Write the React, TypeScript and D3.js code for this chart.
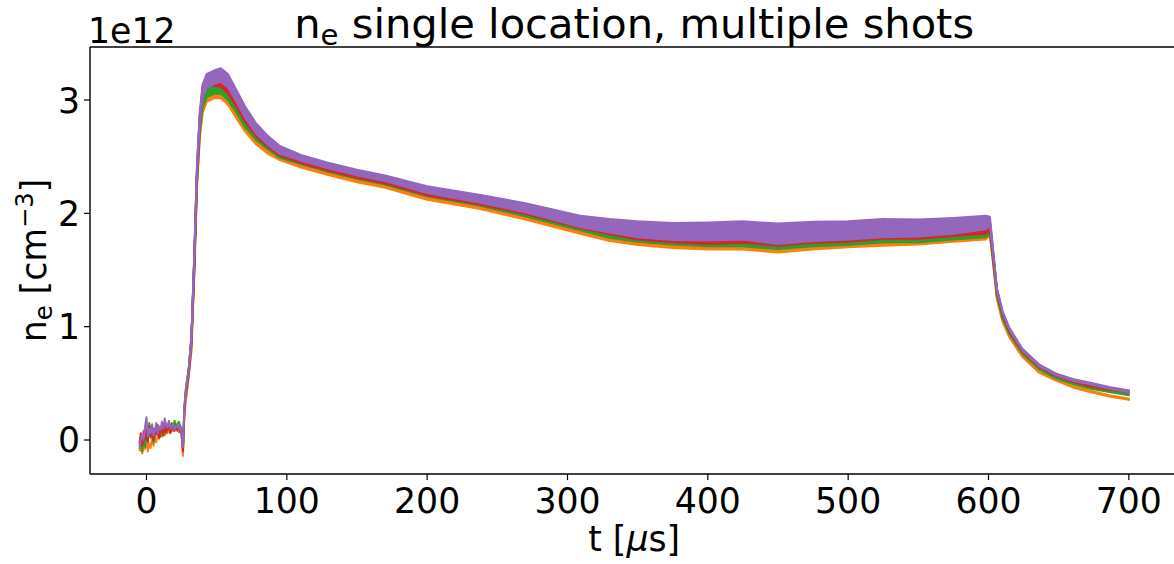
import React from 'react';
import * as d3 from 'd3';

// time axis in microseconds
const T_EARLY = [-5,-4,-3,-2,-1,0,1,2,3,4,5,6,7,8,9,10,11,12,13,14,15,16,17,18,19,20,21,22,23,24,25,26,27];
const T_MAIN = [28,30,32,34,36,38,40,43,48,53,58,64,70,78,86,95,110,130,150,170,200,237,270,309,330,350,375,400,425,450,475,500,525,550,575,598,601,603,606,610,615,624,636,648,660,672,686,700];

// electron density, units of 1e12 cm^-3
const BLUE_EARLY = [0.02,0.0,-0.02,0.05,0.08,0.02,0.1,0.04,0.12,0.06,0.1,0.03,0.09,0.13,0.05,0.11,0.08,0.12,0.07,0.14,0.09,0.1,0.13,0.08,0.11,0.15,0.1,0.08,0.12,0.1,0.06,-0.05,0.28];
const ORANGE_EARLY = [-0.1,-0.06,-0.12,-0.04,-0.08,0.0,-0.1,-0.03,-0.07,0.02,-0.05,0.03,-0.02,0.05,0.01,0.06,0.03,0.08,0.04,0.09,0.06,0.1,0.07,0.11,0.08,0.12,0.09,0.1,0.07,0.11,0.04,-0.14,0.2];
const GREEN_EARLY = [-0.05,0.03,-0.1,0.04,-0.06,0.06,0.0,0.15,0.02,0.09,-0.02,0.07,0.12,0.05,0.1,0.03,0.12,0.08,0.1,0.06,0.14,0.09,0.13,0.15,0.11,0.17,0.12,0.14,0.16,0.13,0.1,-0.08,0.27];
const RED_EARLY = [-0.03,0.06,-0.05,0.08,0.0,0.1,-0.02,0.12,0.04,0.08,0.0,0.1,0.05,0.13,0.02,0.09,0.11,0.04,0.15,0.07,0.1,0.14,0.06,0.1,0.13,0.08,0.11,0.09,0.12,0.07,0.05,-0.1,0.25];
const PURPLE_EARLY = [-0.08,0.02,0.05,0.0,0.12,0.2,0.03,0.1,0.06,0.14,0.04,0.08,0.15,0.06,0.12,0.09,0.16,0.1,0.19,0.13,0.11,0.17,0.1,0.12,0.14,0.09,0.12,0.13,0.1,0.12,0.05,-0.06,0.3];

const BLUE_MAIN = [0.43,0.6,0.88,1.58,2.38,2.83,3.05,3.14,3.17,3.18,3.13,3.0,2.87,2.72,2.63,2.55,2.48,2.41,2.35,2.3,2.2,2.12,2.04,1.92,
  1.87,1.84,1.82,1.82,1.83,1.81,1.82,1.83,1.85,1.85,1.87,1.9,1.91,
  1.68,1.32,1.12,0.97,0.79,0.65,0.57,0.52,0.49,0.45,0.42];
const ORANGE_MAIN = [0.35,0.55,0.8,1.45,2.25,2.7,2.93,3.03,3.06,3.06,3.0,2.88,2.76,2.64,2.56,2.5,2.43,2.36,2.3,2.25,2.15,2.07,1.98,1.86,
  1.8,1.77,1.75,1.74,1.74,1.72,1.74,1.76,1.77,1.78,1.8,1.82,1.83,
  1.6,1.25,1.05,0.91,0.74,0.6,0.53,0.47,0.43,0.39,0.36];
const GREEN_MAIN = [0.4,0.58,0.85,1.5,2.3,2.75,2.98,3.07,3.1,3.1,3.04,2.93,2.8,2.68,2.6,2.52,2.46,2.39,2.33,2.28,2.18,2.1,2.01,1.89,
  1.83,1.8,1.78,1.77,1.77,1.75,1.77,1.78,1.8,1.8,1.82,1.84,1.85,
  1.63,1.28,1.08,0.94,0.77,0.63,0.55,0.5,0.46,0.43,0.4];
const RED_MAIN = [0.42,0.6,0.88,1.55,2.35,2.82,3.08,3.18,3.17,3.16,3.1,2.98,2.85,2.71,2.62,2.54,2.47,2.4,2.34,2.29,2.19,2.11,2.03,1.91,
  1.86,1.82,1.8,1.79,1.8,1.78,1.8,1.81,1.83,1.83,1.85,1.87,1.88,
  1.66,1.31,1.11,0.96,0.79,0.65,0.57,0.52,0.48,0.45,0.43];
const PURPLE_MAIN = [0.45,0.62,0.9,1.6,2.4,2.85,3.08,3.17,3.2,3.22,3.17,3.04,2.9,2.75,2.65,2.56,2.49,2.42,2.36,2.31,2.21,2.13,2.05,1.93,
  1.89,1.86,1.84,1.84,1.85,1.82,1.84,1.85,1.87,1.87,1.89,1.92,1.93,
  1.7,1.33,1.13,0.98,0.8,0.66,0.58,0.53,0.5,0.46,0.43];

// half-width of the fast noise band around each trace
const NOISE_SHOT = [0,0,0.02,0.02,0.03,0.04,0.045,0.045,0.045,0.045,0.04,0.04,0.035,0.03,0.03,0.03,0.025,0.025,0.025,0.025,0.03,0.03,0.035,0.04,
  0.045,0.05,0.055,0.06,0.06,0.065,0.06,0.06,0.055,0.055,0.05,0.05,0.03,
  0.015,0.008,0.006,0.006,0.006,0.006,0.006,0.006,0.006,0.006,0.006];
const NOISE_PURPLE = [0,0,0.02,0.03,0.04,0.05,0.06,0.06,0.06,0.06,0.06,0.05,0.05,0.045,0.04,0.035,0.025,0.025,0.025,0.025,0.03,0.035,0.04,0.05,
  0.06,0.07,0.075,0.08,0.08,0.09,0.085,0.08,0.08,0.075,0.07,0.06,0.04,
  0.02,0.01,0.008,0.008,0.008,0.008,0.008,0.008,0.008,0.008,0.008];

const X_TICKS = [0,100,200,300,400,500,600,700];
const Y_TICKS = [0,1,2,3];

const SERIES = [
  { name: 'shot 1', color: '#1f77b4', early: BLUE_EARLY, main: BLUE_MAIN, noise: NOISE_SHOT },
  { name: 'shot 2', color: '#ff7f0e', early: ORANGE_EARLY, main: ORANGE_MAIN, noise: NOISE_SHOT },
  { name: 'shot 3', color: '#2ca02c', early: GREEN_EARLY, main: GREEN_MAIN, noise: NOISE_SHOT },
  { name: 'shot 4', color: '#d62728', early: RED_EARLY, main: RED_MAIN, noise: NOISE_SHOT },
  { name: 'shot 5', color: '#9467bd', early: PURPLE_EARLY, main: PURPLE_MAIN, noise: NOISE_PURPLE },
];

const W = 1174;
const H = 564;
const FONT = 'DejaVu Sans, sans-serif';
const FS = 34.7;
const FS_TITLE = 41.6;

export default function App() {
  const left = 90, right = 1178.3, top = 47, bottom = 474;
  const x = d3.scaleLinear().domain([-40.25, 735.25]).range([left, right]);
  const y = d3.scaleLinear().domain([-0.3, 3.468]).range([bottom, top]);

  const line = d3.line<[number, number]>().x(d => x(d[0])).y(d => y(d[1]));
  const area = d3.area<[number, number, number]>()
    .x(d => x(d[0]))
    .y0(d => y(d[1] - d[2]))
    .y1(d => y(d[1] + d[2]));

  return (
    <svg width={W} height={H} style={{ position: 'absolute', left: 0, top: 0, background: '#fff' }} fontFamily={FONT}>
      <rect x={0} y={0} width={W} height={H} fill="#fff" />
      <defs>
        <clipPath id="plotclip">
          <rect x={left} y={top} width={right - left} height={bottom - top} />
        </clipPath>
      </defs>
      <g clipPath="url(#plotclip)">
        {SERIES.map(s => {
          const pts: [number, number][] = [
            ...T_EARLY.map((t, i) => [t, s.early[i]] as [number, number]),
            ...T_MAIN.map((t, i) => [t, s.main[i]] as [number, number]),
          ];
          const band: [number, number, number][] = T_MAIN.map((t, i) => [t, s.main[i], s.noise[i]]);
          return (
            <g key={s.name}>
              <path d={area(band) || ''} fill={s.color} stroke={s.color} strokeWidth={2} strokeLinejoin="round" />
              <path d={line(pts) || ''} fill="none" stroke={s.color} strokeWidth={2} strokeLinejoin="round" />
            </g>
          );
        })}
      </g>
      {/* spines */}
      <line x1={left} x2={left} y1={top} y2={bottom} stroke="#000" strokeWidth={1.4} />
      <line x1={left} x2={W} y1={bottom} y2={bottom} stroke="#000" strokeWidth={1.4} />
      <line x1={left} x2={W} y1={top} y2={top} stroke="#000" strokeWidth={1.4} />
      {/* x ticks */}
      {X_TICKS.map(t => (
        <g key={'x' + t}>
          <line x1={x(t)} x2={x(t)} y1={bottom} y2={bottom + 6} stroke="#000" strokeWidth={1.2} />
          <text x={x(t)} y={513} textAnchor="middle" fontSize={FS} fill="#000">{t}</text>
        </g>
      ))}
      {/* y ticks */}
      {Y_TICKS.map(v => (
        <g key={'y' + v}>
          <line x1={left - 6} x2={left} y1={y(v)} y2={y(v)} stroke="#000" strokeWidth={1.2} />
          <text x={80} y={y(v)} dy="0.36em" textAnchor="end" fontSize={FS} fill="#000">{v}</text>
        </g>
      ))}
      {/* offset text */}
      <text x={88} y={43} fontSize={FS} fill="#000">1e12</text>
      {/* title */}
      <text x={(left + right) / 2} y={38} textAnchor="middle" fontSize={FS_TITLE} fill="#000">
        n<tspan dy={7} fontSize={FS_TITLE * 0.7}>e</tspan><tspan dy={-7}> single location, multiple shots</tspan>
      </text>
      {/* x label */}
      <text x={(left + right) / 2} y={551} textAnchor="middle" fontSize={FS} fill="#000">
        t [<tspan fontStyle="italic">μ</tspan>s]
      </text>
      {/* y label */}
      <text transform={`translate(46, ${(top + bottom) / 2}) rotate(-90)`} textAnchor="middle" fontSize={FS} fill="#000">
        n<tspan dy={6} fontSize={FS * 0.7}>e</tspan><tspan dy={-6}> [cm</tspan><tspan dy={-13} fontSize={FS * 0.7}>−3</tspan><tspan dy={13}>]</tspan>
      </text>
    </svg>
  );
}
